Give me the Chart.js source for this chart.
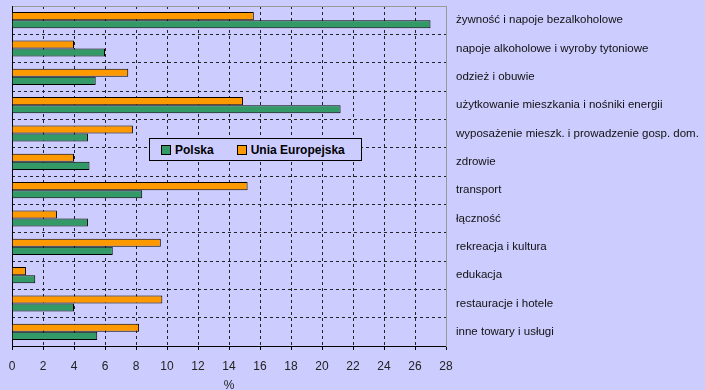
<!DOCTYPE html>
<html>
<head>
<meta charset="utf-8">
<script src="https://cdn.jsdelivr.net/npm/chart.js@4/dist/chart.umd.min.js"></script>
<style>
  body { margin: 0; background: #CCCCFF; }
  #wrap { position: relative; width: 705px; height: 390px; }
  #legend {
    position: absolute; left: 149px; top: 138px; width: 213px; height: 23px;
    border: 1px solid #000; background: #CCCCFF; box-sizing: border-box;
    font: bold 12px "Liberation Sans", Arial, sans-serif; color: #000;
    display: flex; align-items: center; padding-left: 11px; white-space: nowrap;
  }
  #legend span.box { display: inline-block; width: 8px; height: 8px; border: 1px solid #000; margin-right: 4px; }
  #legend span.item { display: inline-flex; align-items: center; margin-right: 23px; }
</style>
</head>
<body>
<div id="wrap">
  <canvas id="chart_area" width="705" height="390"></canvas>
  <div id="legend"></div>
</div>
<script>
const categories = [
  'żywność i napoje bezalkoholowe',
  'napoje alkoholowe i wyroby tytoniowe',
  'odzież i obuwie',
  'użytkowanie mieszkania i nośniki energii',
  'wyposażenie mieszk. i prowadzenie gosp. dom.',
  'zdrowie',
  'transport',
  'łączność',
  'rekreacja i kultura',
  'edukacja',
  'restauracje i hotele',
  'inne towary i usługi'
];
const polska = [27.0, 6.0, 5.4, 21.2, 4.9, 5.0, 8.4, 4.9, 6.5, 1.5, 4.0, 5.5];
const ue = [15.6, 4.0, 7.5, 14.9, 7.8, 4.0, 15.2, 2.9, 9.6, 0.9, 9.7, 8.2];
const xTicks = [0, 2, 4, 6, 8, 10, 12, 14, 16, 18, 20, 22, 24, 26, 28];

const green = '#339966';
const orange = '#FF9900';
const fontFam = '"Liberation Sans", Arial, sans-serif';

// legend in the reference lists Polska first
const legendItems = [['Polska', green], ['Unia Europejska', orange]];
document.getElementById('legend').innerHTML = legendItems.map(function (it) {
  return '<span class="item"><span class="box" style="background:' + it[1] + '"></span>' + it[0] + '</span>';
}).join('');

function noPad(scale) {
  scale.paddingTop = 0;
  scale.paddingBottom = 0;
  scale.paddingLeft = 0;
  scale.paddingRight = 0;
}

let ctx = document.getElementById('chart_area').getContext('2d');
let chart = new Chart(ctx, {
  type: 'bar',
  data: {
    labels: categories,
    datasets: [{
      label: 'Unia Europejska',
      data: ue,
      backgroundColor: orange,
      borderColor: '#000',
      borderWidth: 1,
      yAxisID: 'y',
    }, {
      label: 'Polska',
      data: polska,
      backgroundColor: green,
      borderColor: '#000',
      borderWidth: 1,
      yAxisID: 'y',
    }]
  },
  options: {
    indexAxis: 'y',
    responsive: false,
    animation: false,
    categoryPercentage: 0.57,
    barPercentage: 1.0,
    layout: { padding: { left: 12, top: 6, right: 0, bottom: 0 } },
    plugins: { legend: { display: false }, tooltip: { enabled: false } },
    scales: {
      x: {
        type: 'linear',
        position: 'bottom',
        min: 0,
        max: 28,
        afterBuildTicks: function (scale) {
          scale.ticks = xTicks.map(function (v) { return { value: v }; });
        },
        afterFit: function (scale) { scale.height = 44; noPad(scale); },
        ticks: {
          color: '#222',
          font: { family: fontFam, size: 12 },
          padding: 9,
          maxRotation: 0,
          autoSkip: false,
        },
        grid: {
          color: function (c) {
            return (c.index === 0 || c.index === xTicks.length - 1) ? 'rgba(0,0,0,0)' : '#222';
          },
          lineWidth: 1,
          tickLength: 4,
          tickColor: '#000',
          tickBorderDash: [],
        },
        border: { display: true, color: '#000', width: 1, dash: [3, 3] },
        title: {
          display: true,
          text: '%',
          color: '#222',
          font: { family: fontFam, size: 12, lineHeight: 1 },
          padding: { top: 0, bottom: -2 },
        },
      },
      xTop: {
        type: 'linear',
        position: 'top',
        min: 0,
        max: 28,
        ticks: { display: false },
        grid: { display: false },
        border: { display: true, color: '#999', width: 1 },
        afterFit: function (scale) { scale.height = 0; noPad(scale); },
      },
      y: {
        type: 'category',
        position: 'right',
        offset: true,
        afterFit: function (scale) { scale.width = 259; noPad(scale); },
        ticks: {
          color: '#111',
          font: { family: fontFam, size: 11.5 },
          padding: 10,
          autoSkip: false,
        },
        grid: {
          offset: true,
          drawTicks: false,
          color: function (c) { return c.index === 0 ? 'rgba(0,0,0,0)' : '#222'; },
          lineWidth: 1,
        },
        border: { display: true, color: '#999', width: 1, dash: [3, 3] },
      },
      yLeft: {
        type: 'category',
        position: 'left',
        offset: true,
        ticks: { display: false },
        grid: { display: false },
        border: { display: true, color: '#000', width: 1 },
        afterFit: function (scale) { scale.width = 0; noPad(scale); },
      },
    }
  }
});
</script>
</body>
</html>
